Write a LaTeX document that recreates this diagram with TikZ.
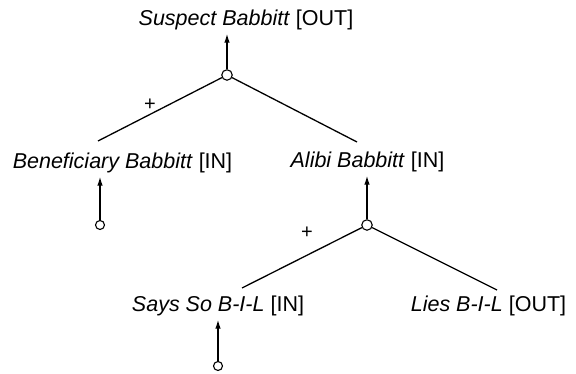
\documentclass[tikz,border=0pt]{standalone}
\usepackage{fontspec}
\setmainfont{Liberation Sans}
\usetikzlibrary{arrows.meta}
\begin{document}
\begin{tikzpicture}[
		x=1pt, y=-1pt,
		every node/.style={font=\fontsize{21.5}{26}\selectfont},
		belief/.style={anchor=base, inner sep=1pt},
		junction/.style={draw, circle, fill=white, line width=1.1pt, minimum size=10.5pt, inner sep=0pt},
		source/.style={draw, circle, fill=white, line width=1.1pt, minimum size=9pt, inner sep=0pt},
		link/.style={draw, line width=1.3pt},
		support/.style={draw, line width=1.3pt, shorten >=2pt, -{Latex[length=9pt,width=5.5pt]}},
		sign/.style={font=\fontsize{20}{22}\selectfont, inner sep=0pt}
	]
	\useasboundingbox (0,0) rectangle (576,374);
	% beliefs
	\node[belief] (suspect) at (246,26) {\textit{Suspect Babbitt} [OUT]};
	\node[belief] (benef) at (122.5,169) {\textit{Beneficiary Babbitt} [IN]};
	\node[belief] (alibi) at (367.5,168) {\textit{Alibi Babbitt} [IN]};
	\node[belief] (says) at (218,312) {\textit{Says So B-I-L} [IN]};
	\node[belief] (lies) at (488.5,312) {\textit{Lies B-I-L} [OUT]};
	% justifications
	\node[junction] (j1) at (227,75) {};
	\node[junction] (j2) at (367,225) {};
	\node[source] (s1) at (100,225) {};
	\node[source] (s2) at (218,366) {};
	\coordinate (benef-in) at (98,141);
	\coordinate (alibi-in) at (357,142);
	\coordinate (says-in) at (242,288);
	\coordinate (lies-in) at (497,290);
	\draw[link] (j1) -- (benef-in);
	\draw[link] (j1) -- (alibi-in);
	\draw[link] (j2) -- (says-in);
	\draw[link] (j2) -- (lies-in);
	\draw[support] (j1) -- (j1 |- suspect.south);
	\draw[support] (j2) -- (j2 |- alibi.south);
	\draw[support] (s1) -- (s1 |- benef.south);
	\draw[support] (s2) -- (s2 |- says.south);
	\node[sign] (plus1) at (150,105) {+};
	\node[sign] (plus2) at (307,233) {+};
\end{tikzpicture}
\end{document}
